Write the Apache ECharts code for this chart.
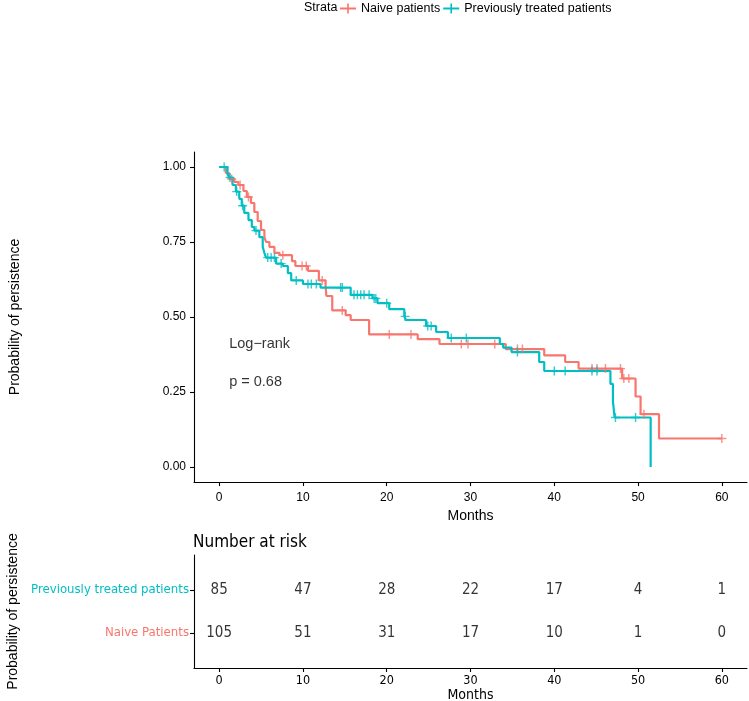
<!DOCTYPE html>
<html>
<head>
<meta charset="utf-8">
<script src="https://cdn.jsdelivr.net/npm/echarts@6/dist/echarts.min.js"></script>
<style>html,body{margin:0;padding:0;background:#fff}#c{width:749px;height:701px}</style>
</head>
<body>
<div id="c"></div>
<script>
// ---- data ----
const naiveTimes = [0,0.8,1.2,1.8,2.3,2.9,3.3,3.8,4.2,4.6,5.0,5.4,5.6,6.0,6.6,7.2,8.7,9.1,10.6,11.9,12.7,12.8,13.5,15.1,15.7,17.9,23.7,26.3,34.2,38.8,41.3,42.9,48.1,49.7,50.3,52.5,60];
const naiveSurv  = [1,0.98,0.96,0.95,0.94,0.92,0.90,0.88,0.85,0.82,0.79,0.766,0.75,0.734,0.714,0.706,0.686,0.67,0.654,0.622,0.606,0.57,0.522,0.506,0.49,0.442,0.426,0.41,0.393,0.372,0.35,0.328,0.295,0.235,0.176,0.095,0.095];
const naiveCensor = [1.5,2.5,3.5,7.6,9.9,10.4,12.3,14.7,20.3,22.9,28.9,29.7,32.9,35.6,36.2,44.5,45.1,46.1,47.9,48.3,48.9,50.7,60];

const prevTimes = [0,1.0,1.2,1.6,2.0,2.4,2.7,3.0,3.5,3.9,4.2,4.8,5.2,5.4,5.6,6.8,7.6,8.2,8.6,10.0,12.1,15.7,18.3,18.9,20.3,22.1,22.3,24.7,25.9,27.3,33.5,33.9,34.9,38.2,38.8,46.7,47.0,47.2,51.5];
const prevSurv  = [1,0.976,0.965,0.94,0.918,0.894,0.871,0.847,0.823,0.80,0.788,0.766,0.734,0.714,0.698,0.678,0.67,0.646,0.622,0.61,0.598,0.574,0.562,0.546,0.526,0.502,0.49,0.47,0.45,0.43,0.41,0.398,0.383,0.35,0.32,0.277,0.219,0.165,0];
const prevCensor = [0.6,1.3,2.1,2.8,4.4,5.8,6.2,6.6,7.4,9.2,10.6,11.0,11.6,14.5,14.7,16.1,16.5,16.9,17.3,17.9,18.5,18.7,20.0,22.2,24.9,25.3,27.7,29.5,35.6,40.0,41.3,44.5,45.1,47.3,49.7];

const riskTimes = [0,10,20,30,40,50,60];
const riskPrev  = [85,47,28,22,17,4,1];
const riskNaive = [105,51,31,17,10,1,0];
const xTicks = [0,10,20,30,40,50,60];
const yTicks = [0,0.25,0.5,0.75,1];
const strata = ['Naive patients','Previously treated patients'];
const riskRows = ['Naive Patients','Previously treated patients'];
const pText = ['Log\u2212rank','p = 0.68'];

// ---- helpers ----
const RED = '#F8766D', TEAL = '#00BFC4';
const SANS = "'Liberation Sans', Arial, sans-serif";
const cv = document.createElement('canvas').getContext('2d');
function textW(txt, size, fam){ cv.font = size + 'px ' + fam; return cv.measureText(txt).width; }
function hasFont(name){
  const a = textW('abcdefghijklmnopqrstuvwxyz0123456789', 40, "'" + name + "', monospace");
  const b = textW('abcdefghijklmnopqrstuvwxyz0123456789', 40, 'monospace');
  return Math.abs(a - b) > 0.5;
}
const narrowName = ['Liberation Sans Narrow','Arial Narrow','DejaVu Sans Condensed','Roboto Condensed'].find(hasFont);
const NARROW = narrowName ? "'" + narrowName + "', " + SANS : SANS;
function fit(txt, target, maxSize){ const w = textW(txt, 20, NARROW); return Math.min(maxSize, 20 * target / w); }
const rowSize = fit(riskRows[1], 158, 14);
const titleSize = fit('Number at risk', 114, 19);

const PLUS = 'path://M0,4.2h4.2v-4.2h1.6v4.2h4.2v1.6h-4.2v4.2h-1.6v-4.2h-4.2z';
const LEGPLUS = 'path://M0,4.1h7.2v-4.1h1.6v4.1h7.2v1.8h-7.2v4.1h-1.6v-4.1h-7.2z';
function pairs(t,s){return t.map((v,i)=>[v,s[i]]);}
function survAt(t,ts,ss){let v=ss[0];for(let i=0;i<ts.length;i++){if(ts[i]<=t)v=ss[i];}return v;}

const chart = echarts.init(document.getElementById('c'), null, {renderer:'canvas'});
const axisLineStyle = {color:'#000', width:1.1};
chart.setOption({
  animation:false,
  backgroundColor:'#fff',
  textStyle:{fontFamily:SANS},
  title:[
    {text:'Strata', left:304, top:1, padding:0, textStyle:{fontSize:12.5, fontWeight:'normal', color:'#000', fontFamily:SANS}},
    {text:'Number at risk', left:193, top:534, padding:0, textStyle:{fontSize:titleSize, fontWeight:'normal', color:'#000', fontFamily:NARROW}}
  ],
  legend:{
    data:strata, left:340, top:2, padding:0, itemWidth:16, itemHeight:10, itemGap:3,
    icon:LEGPLUS,
    textStyle:{fontSize:12.5, color:'#000', fontFamily:SANS}
  },
  grid:[
    {left:194, right:2, top:152, height:330, outerBoundsMode:'none', containLabel:false},
    {left:194, right:2, top:555, height:113, outerBoundsMode:'none', containLabel:false}
  ],
  xAxis:[
    {gridIndex:0, type:'value', min:-3, max:63, name:'Months', nameLocation:'middle', nameGap:27,
     nameTextStyle:{fontSize:14, color:'#000', fontFamily:SANS},
     axisLine:{show:true, onZero:false, lineStyle:axisLineStyle},
     axisTick:{show:true, customValues:xTicks, length:4, lineStyle:axisLineStyle},
     axisLabel:{customValues:xTicks, fontSize:12, color:'#000', margin:10, fontFamily:SANS},
     splitLine:{show:false}},
    {gridIndex:1, type:'value', min:-3, max:63, name:'Months', nameLocation:'middle', nameGap:20,
     nameTextStyle:{fontSize:14, color:'#000', fontFamily:NARROW},
     axisLine:{show:true, onZero:false, lineStyle:axisLineStyle},
     axisTick:{show:true, customValues:xTicks, length:4, lineStyle:axisLineStyle},
     axisLabel:{customValues:xTicks, fontSize:12.5, color:'#000', margin:6, fontFamily:NARROW},
     splitLine:{show:false}}
  ],
  yAxis:[
    {gridIndex:0, type:'value', min:-0.05, max:1.05, name:'Probability of persistence', nameLocation:'middle', nameGap:172,
     nameTextStyle:{fontSize:14, color:'#000', fontFamily:SANS},
     axisLine:{show:true, onZero:false, lineStyle:axisLineStyle},
     axisTick:{show:true, customValues:yTicks, length:4, lineStyle:axisLineStyle},
     axisLabel:{customValues:yTicks, fontSize:12, color:'#000', margin:8, fontFamily:SANS, formatter:v=>Number(v).toFixed(2)},
     splitLine:{show:false}},
    {gridIndex:1, type:'value', min:0.18, max:2.82, name:'Probability of persistence', nameLocation:'middle', nameGap:172,
     nameTextStyle:{fontSize:14, color:'#000', fontFamily:SANS},
     axisLine:{show:true, onZero:false, lineStyle:axisLineStyle},
     axisTick:{show:true, customValues:[1,2], length:4, lineStyle:axisLineStyle},
     axisLabel:{customValues:[1,2], fontSize:rowSize, margin:5, fontFamily:NARROW,
       formatter:v=>riskRows[Math.round(Number(v))-1],
       color:v=>Math.round(Number(v))===1?RED:TEAL},
     splitLine:{show:false}}
  ],
  series:[
    {name:strata[0], type:'line', step:'end', xAxisIndex:0, yAxisIndex:0, data:pairs(naiveTimes,naiveSurv),
     showSymbol:false, symbol:'none', color:RED, lineStyle:{width:2.2, color:RED}, z:3},
    {name:strata[1], type:'line', step:'end', xAxisIndex:0, yAxisIndex:0, data:pairs(prevTimes,prevSurv),
     showSymbol:false, symbol:'none', color:TEAL, lineStyle:{width:2.2, color:TEAL}, z:4},
    {name:'naive-censor', type:'scatter', xAxisIndex:0, yAxisIndex:0, symbol:PLUS, symbolSize:9,
     itemStyle:{color:RED}, data:naiveCensor.map(t=>[t,survAt(t,naiveTimes,naiveSurv)]), z:5},
    {name:'prev-censor', type:'scatter', xAxisIndex:0, yAxisIndex:0, symbol:PLUS, symbolSize:9,
     itemStyle:{color:TEAL}, data:prevCensor.map(t=>[t,survAt(t,prevTimes,prevSurv)]), z:6},
    {name:'pval', type:'scatter', xAxisIndex:0, yAxisIndex:0, symbolSize:0,
     data:[{name:pText[0], value:[1.2,0.41]},{name:pText[1], value:[1.2,0.285]}],
     label:{show:true, position:'inside', align:'left', formatter:'{b}', fontSize:14.5, color:'#000', fontFamily:SANS}},
    {name:'risk', type:'scatter', xAxisIndex:1, yAxisIndex:1, symbolSize:0,
     data:riskTimes.map((t,i)=>[t,2,riskPrev[i]]).concat(riskTimes.map((t,i)=>[t,1,riskNaive[i]])),
     label:{show:true, position:'inside', formatter:p=>String(p.data[2]), fontSize:15, color:'#000', fontFamily:NARROW}}
  ]
});
</script>
</body>
</html>
